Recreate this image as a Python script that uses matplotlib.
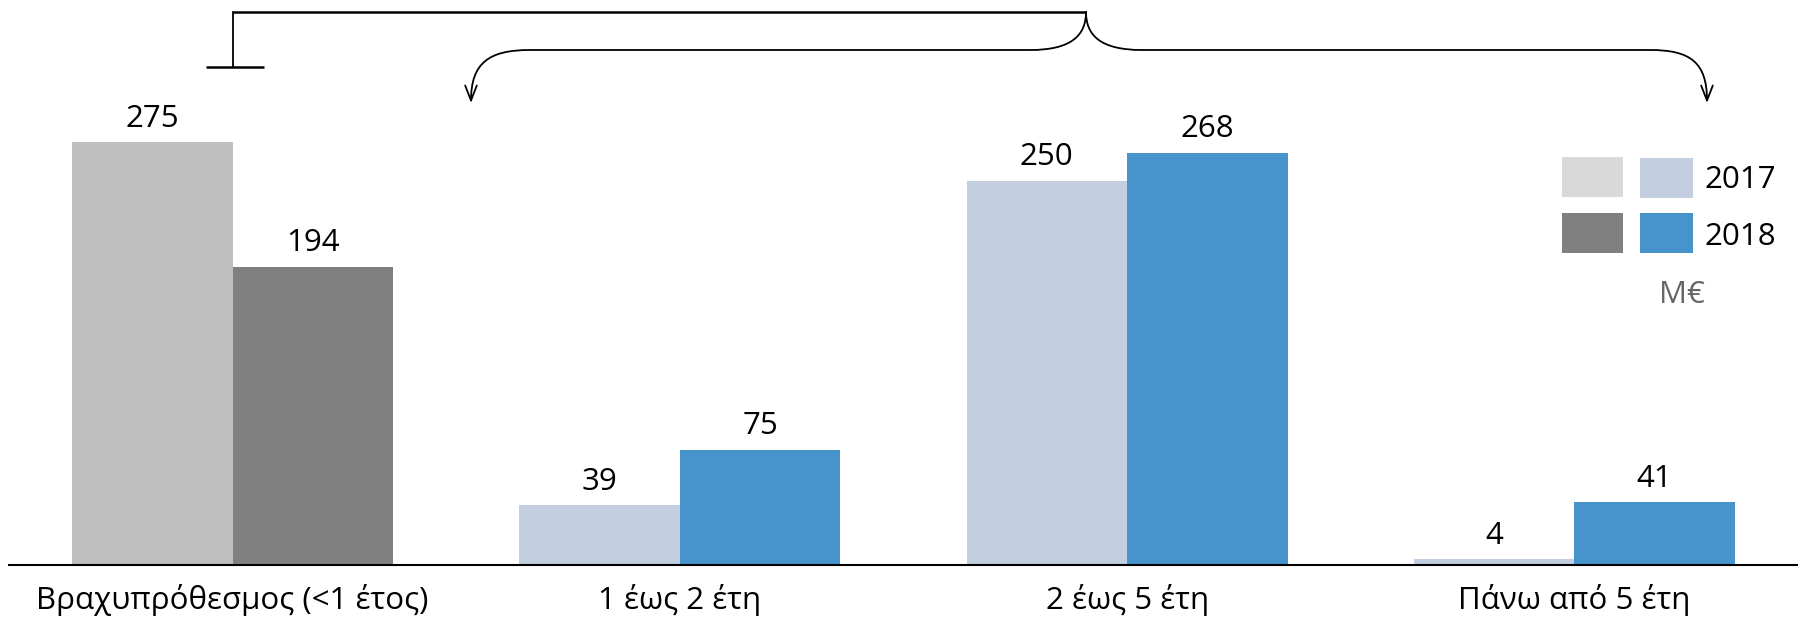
import matplotlib

matplotlib.use("Agg")  # Use non-interactive backend
import matplotlib.pyplot as plt
from matplotlib.patches import Rectangle, FancyArrowPatch
from matplotlib.path import Path

plt.rcParams["font.family"] = ["Open Sans", "DejaVu Sans"]

categories = ["Βραχυπρόθεσμος (<1 έτος)", "1 έως 2 έτη", "2 έως 5 έτη", "Πάνω από 5 έτη"]
values_2017 = [275, 39, 250, 4]
values_2018 = [194, 75, 268, 41]
colors_2017 = ["#BFBFBF", "#C3CEE0", "#C3CEE0", "#C3CEE0"]
colors_2018 = ["#808080", "#4793CB", "#4793CB", "#4793CB"]
legend_years = ["2017", "2018"]
unit_label = "M€"

W, H = 1798, 622
FS = 22.5
fig = plt.figure(figsize=(W / 100, H / 100), dpi=100)

# main bar axes: baseline at y=565 px, spans x 9..1798 px
ax = fig.add_axes([9 / W, (H - 565) / H, 1 - 9 / W, 565 / H])
bar_w = 0.359
x = list(range(len(categories)))
ax.bar([i - bar_w / 2 for i in x], values_2017, width=bar_w, color=colors_2017)
ax.bar([i + bar_w / 2 for i in x], values_2018, width=bar_w, color=colors_2018)
for i in x:
    ax.annotate(str(values_2017[i]), (i - bar_w / 2, values_2017[i]), xytext=(0, 6),
                textcoords="offset points", ha="center", va="bottom", fontsize=FS)
    ax.annotate(str(values_2018[i]), (i + bar_w / 2, values_2018[i]), xytext=(0, 6),
                textcoords="offset points", ha="center", va="bottom", fontsize=FS)

ax.set_xlim(-0.5, 3.5)
ax.set_ylim(0, 565 / 1.538)
ax.set_xticks(x)
ax.set_xticklabels(categories, fontsize=FS)
ax.tick_params(axis="x", length=0, pad=14)
ax.set_yticks([])
for side in ["left", "right", "top"]:
    ax.spines[side].set_visible(False)
ax.spines["bottom"].set_linewidth(1.5)
ax.spines["bottom"].set_color("black")

# overlay in pixel coordinates for bracket and legend
ov = fig.add_axes([0, 0, 1, 1])
ov.set_xlim(0, W)
ov.set_ylim(H, 0)
ov.axis("off")
ov.patch.set_alpha(0)

lw = 1.3
ov.plot([233, 1086], [11.5, 11.5], color="black", lw=1.8, solid_capstyle="butt")
ov.plot([233, 233], [11.5, 66.5], color="black", lw=lw)
ov.plot([206, 264], [66.5, 66.5], color="black", lw=1.8, solid_capstyle="butt")

left_path = Path(
    [(1086, 12), (1086, 35), (1072, 50), (1030, 50), (530, 50),
     (490, 50), (471, 62), (471, 103)],
    [Path.MOVETO, Path.CURVE4, Path.CURVE4, Path.CURVE4, Path.LINETO,
     Path.CURVE4, Path.CURVE4, Path.CURVE4],
)
right_path = Path(
    [(1086, 12), (1086, 35), (1100, 50), (1142, 50), (1650, 50),
     (1690, 50), (1707, 62), (1707, 103)],
    [Path.MOVETO, Path.CURVE4, Path.CURVE4, Path.CURVE4, Path.LINETO,
     Path.CURVE4, Path.CURVE4, Path.CURVE4],
)
for p in (left_path, right_path):
    ov.add_patch(FancyArrowPatch(path=p, arrowstyle="->,head_length=0.9,head_width=0.35",
                                 color="black", lw=lw, mutation_scale=12))

# legend
ov.add_patch(Rectangle((1562, 157), 61, 40, color="#D9D9D9", lw=0))
ov.add_patch(Rectangle((1640, 158), 53, 40, color=colors_2017[1], lw=0))
ov.add_patch(Rectangle((1562, 213), 61, 40, color=colors_2018[0], lw=0))
ov.add_patch(Rectangle((1640, 213), 53, 40, color=colors_2018[1], lw=0))
ov.text(1704, 180, legend_years[0], fontsize=FS, va="center", ha="left")
ov.text(1704, 237, legend_years[1], fontsize=FS, va="center", ha="left")
ov.text(1682, 295, unit_label, fontsize=FS, va="center", ha="center", color="#666666")

fig.savefig("out.png", dpi=100)
